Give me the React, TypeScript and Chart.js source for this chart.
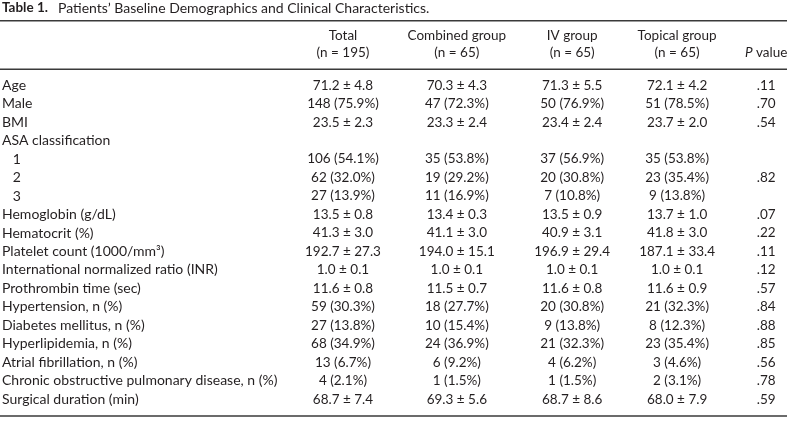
import React, { useEffect, useRef } from "react";
import { Chart, registerables } from "chart.js";

Chart.register(...registerables);

// ---------- DATA ----------
const TABLE_LABEL = "Table 1.";
const TABLE_TITLE = "Patients’ Baseline Demographics and Clinical Characteristics.";

const ROW_LABELS = [
  "Age",
  "Male",
  "BMI",
  "ASA classification",
  "   1",
  "   2",
  "   3",
  "Hemoglobin (g/dL)",
  "Hematocrit (%)",
  "Platelet count (1000/mm³)",
  "International normalized ratio (INR)",
  "Prothrombin time (sec)",
  "Hypertension, n (%)",
  "Diabetes mellitus, n (%)",
  "Hyperlipidemia, n (%)",
  "Atrial fibrillation, n (%)",
  "Chronic obstructive pulmonary disease, n (%)",
  "Surgical duration (min)",
];

const COLUMN_TITLES = ["Total", "Combined group", "IV group", "Topical group", ""];
const COLUMN_COUNTS = ["(n = 195)", "(n = 65)", "(n = 65)", "(n = 65)", ""];
const P_HEADER_ITALIC = "P";
const P_HEADER_REST = " value";

const TOTAL = [
  "71.2 ± 4.8", "148 (75.9%)", "23.5 ± 2.3", "", "106 (54.1%)", "62 (32.0%)", "27 (13.9%)",
  "13.5 ± 0.8", "41.3 ± 3.0", "192.7 ± 27.3", "1.0 ± 0.1", "11.6 ± 0.8", "59 (30.3%)",
  "27 (13.8%)", "68 (34.9%)", "13 (6.7%)", "4 (2.1%)", "68.7 ± 7.4",
];
const COMBINED = [
  "70.3 ± 4.3", "47 (72.3%)", "23.3 ± 2.4", "", "35 (53.8%)", "19 (29.2%)", "11 (16.9%)",
  "13.4 ± 0.3", "41.1 ± 3.0", "194.0 ± 15.1", "1.0 ± 0.1", "11.5 ± 0.7", "18 (27.7%)",
  "10 (15.4%)", "24 (36.9%)", "6 (9.2%)", "1 (1.5%)", "69.3 ± 5.6",
];
const IV_GROUP = [
  "71.3 ± 5.5", "50 (76.9%)", "23.4 ± 2.4", "", "37 (56.9%)", "20 (30.8%)", "7 (10.8%)",
  "13.5 ± 0.9", "40.9 ± 3.1", "196.9 ± 29.4", "1.0 ± 0.1", "11.6 ± 0.8", "20 (30.8%)",
  "9 (13.8%)", "21 (32.3%)", "4 (6.2%)", "1 (1.5%)", "68.7 ± 8.6",
];
const TOPICAL = [
  "72.1 ± 4.2", "51 (78.5%)", "23.7 ± 2.0", "", "35 (53.8%)", "23 (35.4%)", "9 (13.8%)",
  "13.7 ± 1.0", "41.8 ± 3.0", "187.1 ± 33.4", "1.0 ± 0.1", "11.6 ± 0.9", "21 (32.3%)",
  "8 (12.3%)", "23 (35.4%)", "3 (4.6%)", "2 (3.1%)", "68.0 ± 7.9",
];
const P_VALUES = [
  ".11", ".70", ".54", "", "", ".82", "", ".07", ".22", ".11", ".12", ".57", ".84", ".88",
  ".85", ".56", ".78", ".59",
];

// ---------- LAYOUT / STYLE ----------
const FONT_FAMILY = "Lato, 'Open Sans', sans-serif";
const LABEL_SIZE = 14;
const VALUE_SIZE = 13.5;
const TEXT_COLOR = "#231f20";
const RULE_COLOR = "#3a3a3a";
const COLUMN_ANCHORS = [0.103, 0.333, 0.566, 0.778, 0.958];
const LABEL_COLUMN_WIDTH = 290;

export default function App() {
  const ref = useRef<HTMLCanvasElement>(null);

  useEffect(() => {
    document.body.style.margin = "0";
    const columns = [TOTAL, COMBINED, IV_GROUP, TOPICAL, P_VALUES];

    const tablePlugin = {
      id: "tableText",
      afterDatasetsDraw(chart: any) {
        const ctx = chart.ctx;
        ctx.save();
        ctx.fillStyle = TEXT_COLOR;
        ctx.font = `${VALUE_SIZE}px ${FONT_FAMILY}`;
        ctx.textAlign = "center";
        ctx.textBaseline = "middle";
        chart.data.datasets.forEach((ds: any, di: number) => {
          const meta = chart.getDatasetMeta(di);
          meta.data.forEach((el: any, i: number) => {
            const txt = ds.cellText[i];
            if (txt) ctx.fillText(txt, el.x, el.y);
          });
        });
        ctx.restore();
      },
      afterDraw(chart: any) {
        const ctx = chart.ctx;
        const area = chart.chartArea;
        const xs = chart.scales.x;
        ctx.save();
        // rules
        ctx.strokeStyle = RULE_COLOR;
        ctx.lineWidth = 1.4;
        const rules = [area.top - 55.3, area.top - 6.8, area.bottom + 7.5];
        rules.forEach((y) => {
          ctx.beginPath();
          ctx.moveTo(0, y);
          ctx.lineTo(chart.width, y);
          ctx.stroke();
        });
        // title
        ctx.fillStyle = TEXT_COLOR;
        ctx.textBaseline = "middle";
        ctx.textAlign = "left";
        ctx.font = `bold ${VALUE_SIZE}px ${FONT_FAMILY}`;
        const titleY = area.top - 68;
        ctx.fillText(TABLE_LABEL, 2, titleY);
        const lw = ctx.measureText(TABLE_LABEL).width;
        ctx.font = `${LABEL_SIZE}px ${FONT_FAMILY}`;
        ctx.fillText(TABLE_TITLE, 2 + lw + 10, titleY);
        // header
        ctx.font = `${VALUE_SIZE}px ${FONT_FAMILY}`;
        ctx.textAlign = "center";
        COLUMN_TITLES.forEach((t, c) => {
          const x = xs.getPixelForValue(COLUMN_ANCHORS[c]);
          if (t) ctx.fillText(t, x, area.top - 40);
          if (COLUMN_COUNTS[c]) ctx.fillText(COLUMN_COUNTS[c], x, area.top - 23);
        });
        // P value header (italic P)
        const px = xs.getPixelForValue(COLUMN_ANCHORS[4]);
        ctx.font = `italic ${VALUE_SIZE}px ${FONT_FAMILY}`;
        const wP = ctx.measureText(P_HEADER_ITALIC).width;
        ctx.font = `${VALUE_SIZE}px ${FONT_FAMILY}`;
        const wR = ctx.measureText(P_HEADER_REST).width;
        const start = px - (wP + wR) / 2;
        ctx.textAlign = "left";
        ctx.font = `italic ${VALUE_SIZE}px ${FONT_FAMILY}`;
        ctx.fillText(P_HEADER_ITALIC, start, area.top - 23);
        ctx.font = `${VALUE_SIZE}px ${FONT_FAMILY}`;
        ctx.fillText(P_HEADER_REST, start + wP, area.top - 23);
        ctx.restore();
      },
    };

    const chart = new Chart(ref.current as HTMLCanvasElement, {
      type: "scatter",
      data: {
        datasets: columns.map((col, c) => ({
          label: COLUMN_TITLES[c] || "P value",
          data: ROW_LABELS.map((_, i) => ({ x: COLUMN_ANCHORS[c], y: i })),
          cellText: col,
          pointRadius: 0,
          pointHoverRadius: 0,
        })) as any,
      },
      options: {
        animation: false,
        responsive: false,
        events: [],
        layout: { padding: { left: 2, right: 0, top: 76, bottom: 16.5 } },
        plugins: { legend: { display: false }, tooltip: { enabled: false }, title: { display: false } },
        scales: {
          x: { type: "linear", min: 0, max: 1, display: false },
          y: {
            type: "category",
            labels: ROW_LABELS,
            offset: true,
            position: "left",
            grid: { display: false, drawTicks: false },
            border: { display: false },
            afterFit: (s: any) => {
              s.width = LABEL_COLUMN_WIDTH;
            },
            ticks: {
              autoSkip: false,
              crossAlign: "far",
              color: TEXT_COLOR,
              font: { family: FONT_FAMILY, size: LABEL_SIZE },
            },
          },
        },
      } as any,
      plugins: [tablePlugin],
    });
    return () => chart.destroy();
  }, []);

  return (
    <div style={{ position: "absolute", left: 0, top: 0 }}>
      <canvas ref={ref} width={787} height={425} />
    </div>
  );
}
